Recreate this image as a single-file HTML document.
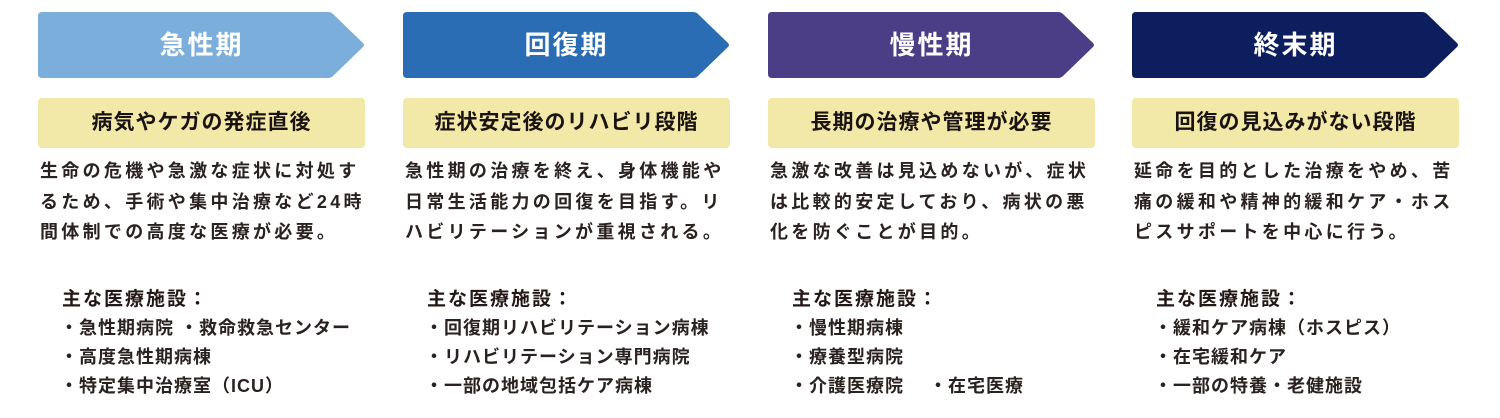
<!DOCTYPE html>
<html><head><meta charset="utf-8"><style>
body{margin:0;width:1500px;height:418px;background:#fff;position:relative;overflow:hidden;font-family:"Liberation Sans","Noto Sans CJK JP",sans-serif;color:#231815}
.col{position:absolute;top:0;width:330px;height:418px}
.arr{position:absolute;left:0;top:12px;width:327px;height:66px}
.arr span{position:absolute;left:0;width:327px;top:0;line-height:66px;text-align:center;color:#fff;font-size:26px;font-weight:bold;letter-spacing:2px}
.y{position:absolute;left:0;top:98px;width:327px;height:50px;background:#f2e8a8;border-radius:4px;text-align:center;line-height:50px;font-size:21px;font-weight:bold;letter-spacing:1px;color:#1a1311}
.d{position:absolute;left:2px;top:156px;font-size:18px;line-height:30.5px;letter-spacing:3.3px;white-space:nowrap;font-weight:bold;color:#2a2220}
.h{position:absolute;left:24px;top:284px;font-size:19px;font-weight:bold;letter-spacing:2px}
.l{position:absolute;left:22px;top:314px;font-size:18px;line-height:29px;white-space:nowrap;font-weight:bold;letter-spacing:1px;color:#2a2220}
</style></head><body>
<div class="col" style="left:38px">
<svg class="arr" viewBox="0 0 327 66"><path d="M4 0H290Q293 0 295 2L325 31Q327 33 325 35L295 64Q293 66 290 66H4Q0 66 0 62V4Q0 0 4 0Z" fill="#7caedc"/></svg>
<div class="arr"><span>急性期</span></div>
<div class="y">病気やケガの発症直後</div>
<div class="d">生命の危機や急激な症状に対処す<br>るため、手術や集中治療など24時<br>間体制での高度な医療が必要。</div>
<div class="h">主な医療施設：</div>
<div class="l">・急性期病院 ・救命救急センター<br>・高度急性期病棟<br>・特定集中治療室（ICU）</div>
</div>
<div class="col" style="left:403px">
<svg class="arr" viewBox="0 0 327 66"><path d="M4 0H290Q293 0 295 2L325 31Q327 33 325 35L295 64Q293 66 290 66H4Q0 66 0 62V4Q0 0 4 0Z" fill="#2a6db5"/></svg>
<div class="arr"><span>回復期</span></div>
<div class="y">症状安定後のリハビリ段階</div>
<div class="d">急性期の治療を終え、身体機能や<br>日常生活能力の回復を目指す。リ<br>ハビリテーションが重視される。</div>
<div class="h">主な医療施設：</div>
<div class="l">・回復期リハビリテーション病棟<br>・リハビリテーション専門病院<br>・一部の地域包括ケア病棟</div>
</div>
<div class="col" style="left:768px">
<svg class="arr" viewBox="0 0 327 66"><path d="M4 0H290Q293 0 295 2L325 31Q327 33 325 35L295 64Q293 66 290 66H4Q0 66 0 62V4Q0 0 4 0Z" fill="#4c3d87"/></svg>
<div class="arr"><span>慢性期</span></div>
<div class="y">長期の治療や管理が必要</div>
<div class="d">急激な改善は見込めないが、症状<br>は比較的安定しており、病状の悪<br>化を防ぐことが目的。</div>
<div class="h">主な医療施設：</div>
<div class="l">・慢性期病棟<br>・療養型病院<br>・介護医療院　 ・在宅医療</div>
</div>
<div class="col" style="left:1132px">
<svg class="arr" viewBox="0 0 327 66"><path d="M4 0H290Q293 0 295 2L325 31Q327 33 325 35L295 64Q293 66 290 66H4Q0 66 0 62V4Q0 0 4 0Z" fill="#0d1e5e"/></svg>
<div class="arr"><span>終末期</span></div>
<div class="y">回復の見込みがない段階</div>
<div class="d">延命を目的とした治療をやめ、苦<br>痛の緩和や精神的緩和ケア・ホス<br>ピスサポートを中心に行う。</div>
<div class="h">主な医療施設：</div>
<div class="l">・緩和ケア病棟（ホスピス）<br>・在宅緩和ケア<br>・一部の特養・老健施設</div>
</div>
</body></html>
